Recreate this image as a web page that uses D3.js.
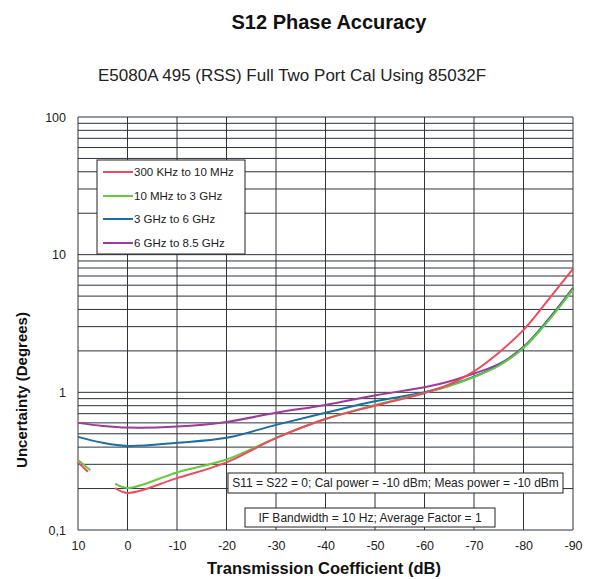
<!DOCTYPE html>
<html>
<head>
<meta charset="utf-8">
<script src="https://cdn.jsdelivr.net/npm/d3@7"></script>
<style>
body { margin: 0; background: #fff; }
text { font-family: "Liberation Sans", Arial, sans-serif; }
</style>
</head>
<body>
<div id="chart_div"></div>
<script>
// values; a null pair marks a gap in the curve
var red_db   = [10, 8, null, 2.5, 0, -10, -20, -30, -40, -50, -60, -65, -70, -75, -80, -85, -90];
var red_vals = [0.31, 0.265, null, 0.202, 0.186, 0.238, 0.31, 0.465, 0.64, 0.80, 0.99, 1.14, 1.42, 1.94, 2.84, 4.7, 7.9];

var green_db   = [10, 7.5, null, 2.5, 0, -10, -20, -30, -40, -50, -60, -65, -70, -75, -80, -85, -90];
var green_vals = [0.323, 0.272, null, 0.217, 0.202, 0.262, 0.325, 0.467, 0.64, 0.81, 0.99, 1.11, 1.29, 1.56, 2.1, 3.3, 5.6];

var blue_db   = [10, 5, 0, -10, -20, -30, -40, -50, -60, -65, -70, -75, -80, -85, -90];
var blue_vals = [0.475, 0.43, 0.408, 0.43, 0.467, 0.58, 0.71, 0.86, 1.0, 1.12, 1.3, 1.57, 2.12, 3.35, 5.65];

var purple_db   = [10, 5, 0, -10, -20, -30, -40, -50, -60, -65, -70, -75, -80, -85, -90];
var purple_vals = [0.60, 0.57, 0.555, 0.565, 0.61, 0.71, 0.81, 0.95, 1.09, 1.2, 1.37, 1.6, 2.14, 3.38, 5.73];

var series_names = ["300 KHz to 10 MHz", "10 MHz to 3 GHz", "3 GHz to 6 GHz", "6 GHz to 8.5 GHz"];
var series_colours = ["#ee4a5e", "#62cc3e", "#1c6ea4", "#9c3c98"];

var x_ticks = [10, 0, -10, -20, -30, -40, -50, -60, -70, -80, -90];
var x_tick_labels = ["10", "0", "-10", "-20", "-30", "-40", "-50", "-60", "-70", "-80", "-90"];
var y_ticks = [0.1, 1, 10, 100];
var y_tick_labels = ["0,1", "1", "10", "100"];

var notes = ["S11 = S22 = 0; Cal power = -10 dBm; Meas power = -10 dBm",
             "IF Bandwidth = 10 Hz; Average Factor = 1"];

var width = 595, height = 579;
var plot_left = 78, plot_right = 573, plot_top = 117, plot_bottom = 530;

var svg = d3.select("#chart_div").append("svg")
    .attr("width", width)
    .attr("height", height);

var x = d3.scaleLinear().domain([10, -90]).range([plot_left, plot_right]);
var y = d3.scaleLog().domain([0.1, 100]).range([plot_bottom, plot_top]);

// grid: log lines 1..9 in each decade
var h_lines = [];
[0.1, 1, 10].forEach(function(decade) {
    for (var k = 1; k < 10; k++) { h_lines.push(decade * k); }
});
h_lines.push(100);

var grid = svg.append("g");
grid.selectAll("line.h")
    .data(h_lines)
    .enter().append("line")
    .attr("x1", plot_left).attr("x2", plot_right)
    .attr("y1", function(d) { return y(d); })
    .attr("y2", function(d) { return y(d); })
    .attr("stroke", "#2b3340").attr("stroke-width", 1);
grid.selectAll("line.v")
    .data(x_ticks)
    .enter().append("line")
    .attr("y1", plot_top).attr("y2", plot_bottom)
    .attr("x1", function(d) { return x(d); })
    .attr("x2", function(d) { return x(d); })
    .attr("stroke", "#333").attr("stroke-width", 1);

// axes (labels only, the grid is the frame)
var x_axis = d3.axisBottom(x)
    .tickValues(x_ticks)
    .tickSize(0)
    .tickPadding(0)
    .tickFormat(function(d, i) { return x_tick_labels[i]; });
var gx = svg.append("g")
    .attr("transform", "translate(0," + (plot_bottom + 11) + ")")
    .call(x_axis);
gx.select(".domain").remove();
gx.selectAll("text").attr("font-size", 12.5).attr("fill", "#222")
    .attr("font-family", "Liberation Sans, Arial, sans-serif");

var y_axis = d3.axisLeft(y)
    .tickValues(y_ticks)
    .tickSize(0)
    .tickPadding(12)
    .tickFormat(function(d, i) { return y_tick_labels[i]; });
var gy = svg.append("g")
    .attr("transform", "translate(" + plot_left + ",0)")
    .call(y_axis);
gy.select(".domain").remove();
gy.selectAll("text").attr("font-size", 12.5).attr("fill", "#222")
    .attr("font-family", "Liberation Sans, Arial, sans-serif");

// curves
var all_db = [red_db, green_db, blue_db, purple_db];
var all_vals = [red_vals, green_vals, blue_vals, purple_vals];
var line = d3.line()
    .defined(function(d) { return d[1] !== null; })
    .x(function(d) { return x(d[0]); })
    .y(function(d) { return y(d[1]); })
    .curve(d3.curveCatmullRom.alpha(0.5));

// purple first so red/green sit on top, as in the picture
[3, 2, 1, 0].forEach(function(s) {
    var pts = all_db[s].map(function(v, i) { return [v, all_vals[s][i]]; });
    svg.append("path")
        .datum(pts)
        .attr("d", line)
        .attr("fill", "none")
        .attr("stroke", series_colours[s])
        .attr("stroke-width", 2);
});

// legend
var legend = svg.append("g");
legend.append("rect")
    .attr("x", 97).attr("y", 160).attr("width", 148).attr("height", 94)
    .attr("fill", "#fff").attr("stroke", "#222").attr("stroke-width", 1);
var legend_rows = [172, 196, 219, 243];
series_names.forEach(function(name, i) {
    legend.append("line")
        .attr("x1", 103).attr("x2", 133)
        .attr("y1", legend_rows[i]).attr("y2", legend_rows[i])
        .attr("stroke", series_colours[i]).attr("stroke-width", 2);
    legend.append("text")
        .attr("x", 134).attr("y", legend_rows[i] + 4)
        .attr("font-size", 11.5).attr("fill", "#222")
        .text(name);
});

// note boxes
var note_boxes = [[228, 473, 335, 20], [245, 508, 250, 19]];
notes.forEach(function(n, i) {
    var b = note_boxes[i];
    svg.append("rect")
        .attr("x", b[0]).attr("y", b[1]).attr("width", b[2]).attr("height", b[3])
        .attr("fill", "#fff").attr("stroke", "#222").attr("stroke-width", 1);
    svg.append("text")
        .attr("x", b[0] + b[2] / 2).attr("y", b[1] + b[3] / 2 + 4)
        .attr("text-anchor", "middle")
        .attr("font-size", 12).attr("fill", "#222")
        .text(n);
});

// titles
svg.append("text")
    .attr("x", 329).attr("y", 29)
    .attr("text-anchor", "middle")
    .attr("font-size", 20).attr("font-weight", "bold").attr("fill", "#111")
    .text("S12 Phase Accuracy");
svg.append("text")
    .attr("x", 292).attr("y", 81)
    .attr("text-anchor", "middle")
    .attr("font-size", 17).attr("fill", "#222")
    .text("E5080A 495 (RSS) Full Two Port Cal Using 85032F");
svg.append("text")
    .attr("x", 324).attr("y", 574)
    .attr("text-anchor", "middle")
    .attr("font-size", 16.5).attr("font-weight", "bold").attr("fill", "#111")
    .text("Transmission Coefficient (dB)");
svg.append("text")
    .attr("transform", "translate(27,390) rotate(-90)")
    .attr("text-anchor", "middle")
    .attr("font-size", 15).attr("font-weight", "bold").attr("fill", "#111")
    .text("Uncertainty (Degrees)");
</script>
</body>
</html>
